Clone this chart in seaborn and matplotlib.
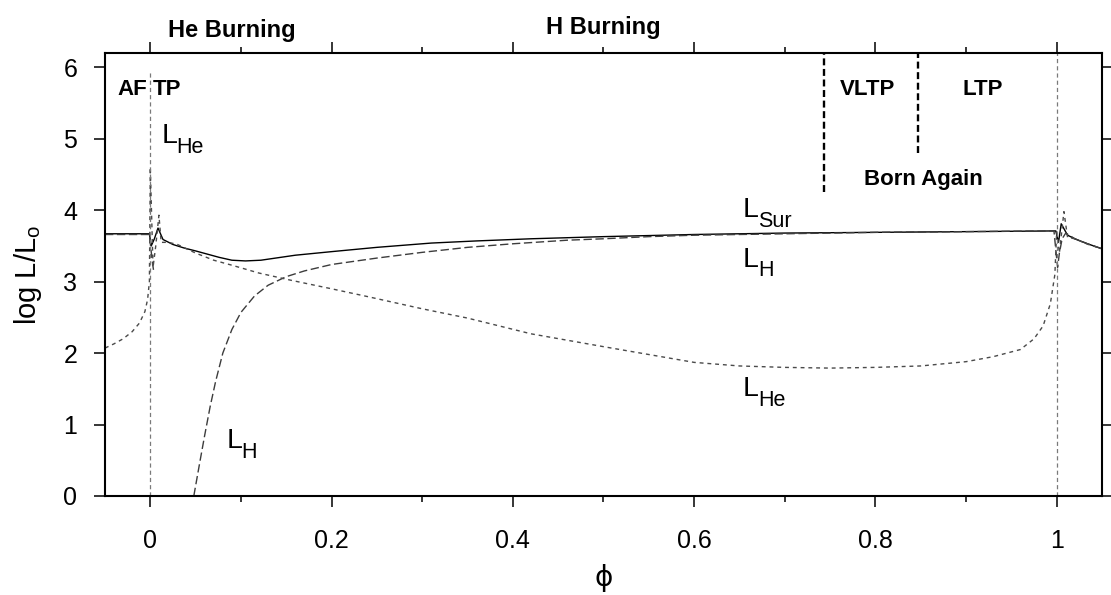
import numpy as np
import pandas as pd
import matplotlib
matplotlib.use("Agg")
import matplotlib.pyplot as plt
import seaborn as sns
from matplotlib.ticker import MultipleLocator, FuncFormatter

# --- luminosity tracks over one thermal-pulse cycle (phase phi) ---
phi_sur = [-0.05, -0.001, 0.001, 0.0045, 0.0085, 0.014, 0.025, 0.0375, 0.05, 0.076,
           0.09, 0.105, 0.122, 0.16, 0.2, 0.25, 0.31, 0.36, 0.42, 0.5, 0.6, 0.7,
           0.8, 0.9, 0.999, 1.002, 1.005, 1.012, 1.02, 1.034, 1.05]
log_sur = [3.67, 3.67, 3.50, 3.60, 3.75, 3.59, 3.52, 3.47, 3.43, 3.34,
           3.30, 3.29, 3.30, 3.37, 3.42, 3.48, 3.54, 3.57, 3.60, 3.63, 3.66, 3.68,
           3.69, 3.70, 3.71, 3.55, 3.81, 3.65, 3.60, 3.53, 3.46]

# hydrogen shell: before the flash, and after re-ignition
phi_h_pre = [-0.05, -0.001, 0.002, 0.004]
log_h_pre = [3.66, 3.66, 3.30, 3.12]
phi_h_post = [0.048, 0.055, 0.06, 0.066, 0.072, 0.08, 0.09, 0.10, 0.115, 0.13,
              0.15, 0.17, 0.2, 0.25, 0.3, 0.35, 0.4, 0.46, 0.5, 0.55, 0.6, 0.7,
              0.8, 0.9, 0.997, 0.999, 1.001, 1.003, 1.006, 1.01, 1.02, 1.034, 1.05]
log_h_post = [0.0, 0.5, 0.85, 1.25, 1.6, 2.0, 2.33, 2.57, 2.80, 2.95,
              3.07, 3.15, 3.24, 3.33, 3.41, 3.48, 3.53, 3.58, 3.60, 3.63, 3.65, 3.67,
              3.69, 3.70, 3.71, 3.45, 3.20, 3.40, 3.60, 3.68, 3.60, 3.53, 3.46]

# helium shell
phi_he = [-0.05, -0.04, -0.03, -0.02, -0.012, -0.006, -0.003, -0.001, 0.0, 0.003,
          0.006, 0.0095, 0.012, 0.02, 0.03, 0.05, 0.07, 0.09, 0.12, 0.155, 0.2,
          0.24, 0.3, 0.35, 0.42, 0.5, 0.55, 0.6, 0.65, 0.7, 0.75, 0.8, 0.85, 0.9,
          0.93, 0.96, 0.975, 0.985, 0.993, 0.998, 1.0, 1.003, 1.008, 1.012, 1.02,
          1.035, 1.05]
log_he = [2.07, 2.13, 2.20, 2.30, 2.42, 2.58, 2.75, 3.00, 4.60, 3.20,
          3.50, 3.93, 3.55, 3.55, 3.52, 3.40, 3.30, 3.23, 3.12, 3.02, 2.90,
          2.79, 2.62, 2.49, 2.27, 2.09, 1.98, 1.87, 1.82, 1.80, 1.79, 1.80, 1.82, 1.88,
          1.95, 2.05, 2.20, 2.38, 2.69, 3.10, 3.70, 3.40, 3.98, 3.62, 3.60,
          3.52, 3.46]

# pulse epochs and the VLTP / LTP / AFTP boundaries
pulse_phi = [0.0, 1.0]
pulse_top = [5.95, 6.2]
bound_phi = [0.743, 0.847]
bound_low = [4.25, 4.80]

x_ticks = [0, 0.2, 0.4, 0.6, 0.8, 1]
y_ticks = [0, 1, 2, 3, 4, 5, 6]

sns.set_theme(style="ticks")
plt.rcParams["font.family"] = ["Liberation Sans", "DejaVu Sans"]
plt.rcParams["mathtext.fontset"] = "custom"
plt.rcParams["mathtext.rm"] = "Liberation Sans"
plt.rcParams["mathtext.default"] = "regular"
plt.rcParams["lines.scale_dashes"] = False
for key in ("text.color", "axes.labelcolor", "xtick.color", "ytick.color",
            "axes.edgecolor"):
    plt.rcParams[key] = "black"

fig = plt.figure(figsize=(11.11, 5.95), dpi=100)
ax = fig.add_axes([0.0945, 0.1664, 0.8974, 0.7445])

h_df = pd.DataFrame({
    "phi": phi_h_pre + phi_h_post,
    "logL": log_h_pre + log_h_post,
    "seg": [0] * len(phi_h_pre) + [1] * len(phi_h_post),
})

sns.lineplot(x=phi_sur, y=log_sur, ax=ax, color="black", lw=1.0,
             estimator=None, sort=False, legend=False)
sns.lineplot(data=h_df, x="phi", y="logL", units="seg", ax=ax, color="#3c3c3c",
             lw=1.0, linestyle=(0, (6.0, 2.6)), estimator=None, sort=False,
             legend=False)
sns.lineplot(x=phi_he, y=log_he, ax=ax, color="#4a4a4a", lw=1.0,
             linestyle=(0, (2.8, 2.8)), estimator=None, sort=False, legend=False)

ax.vlines(pulse_phi, [0, 0], pulse_top, colors="#7a7a7a", lw=0.9,
          linestyles=[(0, (3.0, 2.2))], clip_on=False)
ax.vlines(bound_phi, bound_low, [6.2, 6.2], colors="black", lw=1.7,
          linestyles=[(0, (5.0, 2.6))])

ax.set_xlim(-0.05, 1.05)
ax.set_ylim(0, 6.2)
ax.xaxis.set_minor_locator(MultipleLocator(0.1))
ax.set_xticks(x_ticks)
ax.set_yticks(y_ticks)
ax.xaxis.set_major_formatter(FuncFormatter(lambda v, p: f"{v:g}"))
ax.tick_params(axis="both", which="both", direction="out", top=True, right=True,
               labeltop=False, labelright=False, colors="black", labelsize=18,
               width=1.1)
ax.tick_params(axis="y", which="major", length=8, pad=12)
ax.tick_params(axis="x", which="major", length=8, pad=16)
ax.tick_params(axis="x", which="minor", length=4)
for s in ax.spines.values():
    s.set_linewidth(1.5)
    s.set_color("black")

ax.set_xlabel("ϕ", fontsize=20, family="DejaVu Sans", labelpad=8)
ax.set_ylabel(r"log L/L$_{o}$", fontsize=21, labelpad=14)

bold = dict(fontsize=16, fontweight="bold", va="baseline", clip_on=False)
ax.text(0.09, 6.42, "He Burning", ha="center", **{**bold, "fontsize": 17})
ax.text(0.50, 6.46, "H Burning", ha="center", **{**bold, "fontsize": 17})
ax.text(-0.0204, 5.61, "AF", ha="center", **bold)
ax.text(0.018, 5.61, "TP", ha="center", **bold)
ax.text(0.791, 5.61, "VLTP", ha="center", **bold)
ax.text(0.918, 5.61, "LTP", ha="center", **bold)
ax.text(0.853, 4.35, "Born Again", ha="center", **bold)


def curve_label(x, y, sub):
    ax.text(x, y, "L", fontsize=20.5, ha="left", va="baseline")
    ax.annotate(sub, xy=(x, y), xytext=(10.8, -7.0), textcoords="offset points",
                fontsize=15.5, ha="left", va="baseline")


curve_label(0.0121, 4.94, "He")
curve_label(0.654, 3.90, "Sur")
curve_label(0.654, 3.21, "H")
curve_label(0.654, 1.40, "He")
curve_label(0.0838, 0.67, "H")

fig.savefig("out.png", dpi=100, facecolor="white")
